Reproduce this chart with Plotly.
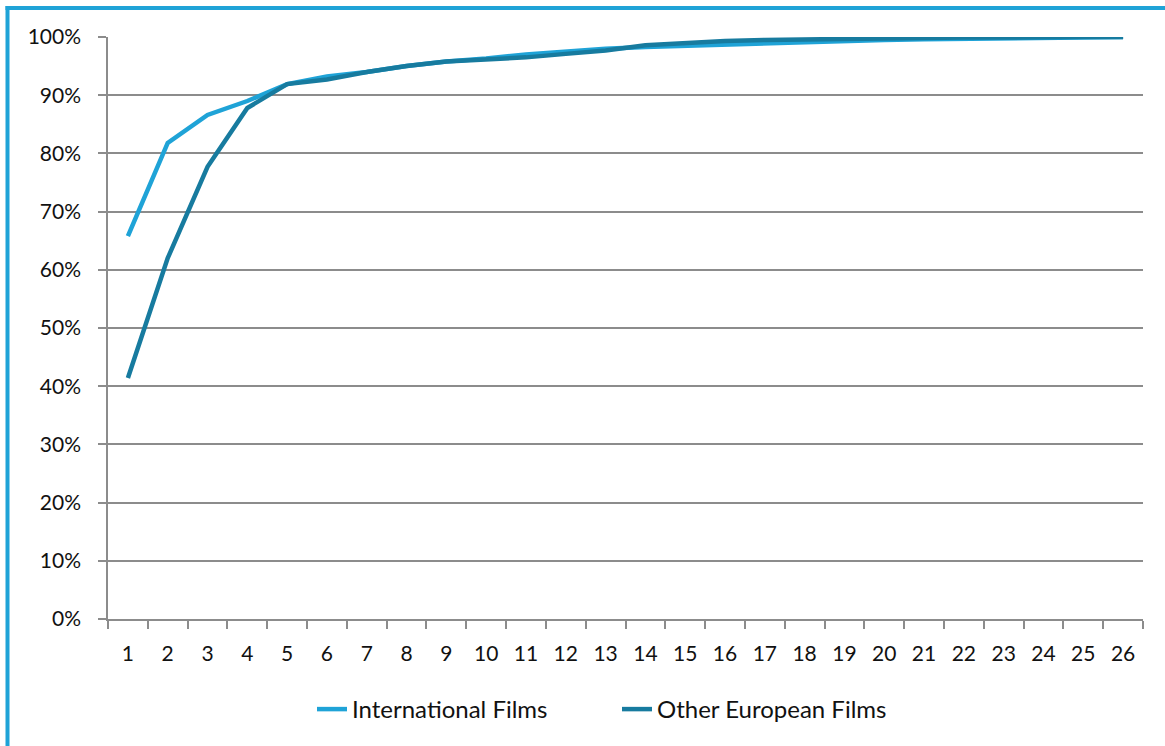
import plotly.graph_objects as go

categories = [str(i) for i in range(1, 27)]
international = [0.658, 0.818, 0.866, 0.890, 0.919, 0.932, 0.940, 0.950, 0.958, 0.963, 0.970, 0.975,
                 0.980, 0.983, 0.985, 0.988, 0.990, 0.992, 0.994, 0.995, 0.996, 0.997, 0.998, 0.999,
                 1.000, 1.000]
other_european = [0.414, 0.620, 0.777, 0.878, 0.919, 0.927, 0.940, 0.950, 0.958, 0.961, 0.965, 0.971,
                  0.977, 0.986, 0.990, 0.993, 0.995, 0.996, 0.997, 0.998, 0.998, 0.999, 0.999, 1.000,
                  1.000, 1.000]
y_ticks = [i / 10 for i in range(11)]

light = "#1FA3D7"
dark = "#177B9F"

fig = go.Figure()
fig.add_trace(go.Scatter(x=categories, y=international, mode="lines", name="International Films",
                         line=dict(color=light, width=4.5)))
fig.add_trace(go.Scatter(x=categories, y=other_european, mode="lines", name="Other European Films",
                         line=dict(color=dark, width=4.5)))

W, H = 1165, 746
L, R, T, B = 108, 22, 37, 127
pw = W - L - R
ph = H - T - B
def px(x):
    return (x - L) / pw
def py(y):
    return (H - B - y) / ph

font = "Lato, 'Open Sans', sans-serif"
fig.update_layout(
    width=W, height=H,
    margin=dict(l=L, r=R, t=T, b=B, autoexpand=False),
    paper_bgcolor="white", plot_bgcolor="white",
    font=dict(family=font, size=21, color="#111111"),
    showlegend=True,
    legend=dict(orientation="h", x=px(312), xanchor="left", y=py(687), yanchor="top",
                font=dict(size=24), entrywidth=260, entrywidthmode="pixels",
                traceorder="normal"),
    xaxis=dict(type="category", range=[-0.5, 25.5], tickson="boundaries", ticks="outside", ticklen=8,
               tickcolor="#8c8c8c", tickwidth=1.5, showline=True, linecolor="#8c8c8c",
               linewidth=1.5, showgrid=False, ticklabelstandoff=15, zeroline=False,
               tickfont=dict(size=21), automargin=False),
    yaxis=dict(range=[0, 1], tickvals=y_ticks, tickformat=".0%", ticks="outside", ticklen=8,
               tickcolor="#8c8c8c", tickwidth=1.5, showline=True, linecolor="#8c8c8c",
               linewidth=1.5, showgrid=True, gridcolor="#8c8c8c", gridwidth=1.5,
               zeroline=False, ticklabelstandoff=13, tickfont=dict(size=21), automargin=False),
)

# outer chart border (left and top edges visible)
fig.add_shape(type="line", xref="paper", yref="paper", x0=px(5.5), x1=px(1180), y0=py(8), y1=py(8),
              line=dict(color=light, width=4))
fig.add_shape(type="line", xref="paper", yref="paper", x0=px(7.5), x1=px(7.5), y0=py(6), y1=py(760),
              line=dict(color=light, width=4))

fig.write_html("out.html", config={"displayModeBar": False},
               post_script="document.body.style.margin='0';")
